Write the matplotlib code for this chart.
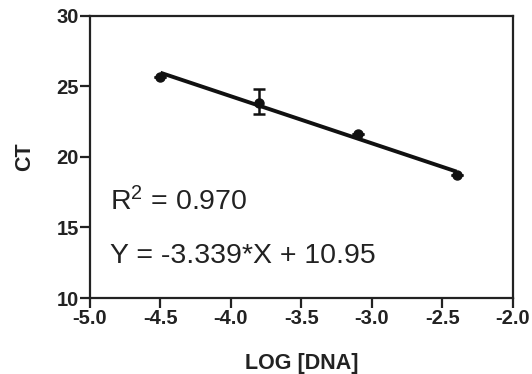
import matplotlib
matplotlib.use("Agg")
import matplotlib.pyplot as plt
import numpy as np

plt.rcParams['font.family'] = ['Liberation Sans', 'DejaVu Sans']
plt.rcParams['mathtext.fontset'] = 'custom'
plt.rcParams['mathtext.rm'] = 'Liberation Sans'
plt.rcParams['mathtext.it'] = 'Liberation Sans:italic'
plt.rcParams['mathtext.bf'] = 'Liberation Sans:bold'

# Data
log_dna = [-4.5, -3.8, -3.1, -2.4]
ct = [25.7, 23.85, 21.6, 18.72]
ct_err_low = [0.0, 0.8, 0.0, 0.0]
ct_err_high = [0.0, 0.95, 0.0, 0.0]
fit_slope = -3.339
fit_intercept = 10.95
r_squared = 0.970
x_ticks = [-5.0, -4.5, -4.0, -3.5, -3.0, -2.5, -2.0]
y_ticks = [10, 15, 20, 25, 30]

fig = plt.figure(figsize=(5.32, 3.74), dpi=100)
ax = fig.add_axes([90/532, (374-298)/374, (513-90)/532, (298-16)/374])

fx = np.array([min(log_dna), max(log_dna)])
ax.plot(fx, fit_slope*fx + fit_intercept, color='#111111', lw=2.8, solid_capstyle='butt', zorder=2)
ax.errorbar(log_dna, ct, yerr=[ct_err_low, ct_err_high], fmt='o', color='#111111',
            ms=6.5, elinewidth=1.8, capsize=4.5, capthick=1.8, zorder=3)

ax.set_xlim(-5.0, -2.0)
ax.set_ylim(10, 30)
ax.set_xticks(x_ticks)
ax.set_xticklabels([f"{t:.1f}" for t in x_ticks])
ax.set_yticks(y_ticks)
ax.set_yticklabels([str(t) for t in y_ticks])
for s in ax.spines.values():
    s.set_linewidth(1.6)
    s.set_color('#222222')
ax.tick_params(direction='out', length=7, width=1.6, color='#222222', labelsize=14.5, pad=1)
for lab in ax.get_xticklabels() + ax.get_yticklabels():
    lab.set_fontweight('bold')
    lab.set_color('#222222')

ax.set_xlabel('LOG [DNA]', fontsize=15.5, fontweight='bold', color='#222222', labelpad=18)
ax.set_ylabel('CT', fontsize=15.5, fontweight='bold', color='#222222', labelpad=15)

ax.text(110/532, 1 - 210.7/374, f"R$^2$ = {r_squared:.3f}", transform=fig.transFigure,
        fontsize=20.5, color='#222222', ha='left', va='baseline')
ax.text(110/532, 1 - 262.7/374, f"Y = {fit_slope:.3f}*X + {fit_intercept:.2f}", transform=fig.transFigure,
        fontsize=20.5, color='#222222', ha='left', va='baseline')

fig.savefig('out.png', dpi=100)
